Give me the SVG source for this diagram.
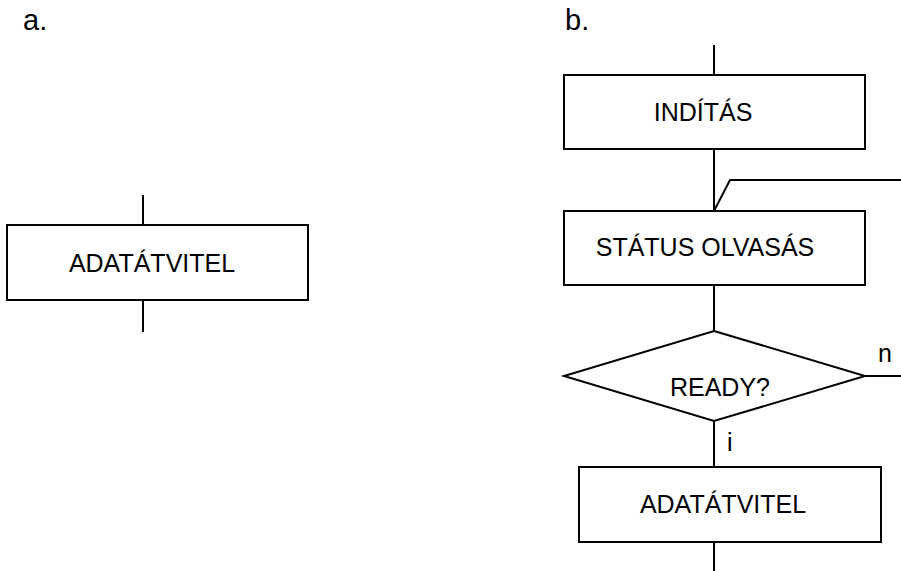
<svg xmlns="http://www.w3.org/2000/svg" width="901" height="571" viewBox="0 0 901 571">
  <style>
    .box { fill: #ffffff; stroke: #000000; stroke-width: 2; }
    .wire { fill: none; stroke: #000000; stroke-width: 2; }
    .lbl { font-family: "Liberation Sans", Arial, sans-serif; font-size: 25px; fill: #000000; }
    .cap { font-size: 29px; }
    .mid { text-anchor: middle; }
  </style>
  <rect width="901" height="571" fill="#ffffff"/>

  <!-- panel captions -->
  <text class="lbl cap" x="23" y="30">a.</text>
  <text class="lbl cap" x="565" y="30">b.</text>

  <!-- connectors -->
  <g id="connectors">
    <!-- panel a: single block -->
    <line class="wire" x1="143" y1="195" x2="143" y2="225"/>
    <line class="wire" x1="143" y1="300" x2="143" y2="332"/>
    <!-- panel b: flow -->
    <line class="wire" x1="714" y1="45" x2="714" y2="75"/>
    <line class="wire" x1="714" y1="149" x2="714" y2="211"/>
    <polyline class="wire" points="714,211 730,180 901,180"/>
    <line class="wire" x1="714" y1="285" x2="714" y2="331"/>
    <line class="wire" x1="865" y1="376" x2="901" y2="376"/>
    <line class="wire" x1="714" y1="421" x2="714" y2="467"/>
    <line class="wire" x1="714" y1="542" x2="714" y2="571"/>
    <text class="lbl" x="878" y="362">n</text>
    <text class="lbl" x="727" y="451">i</text>
  </g>

  <g id="a-transfer">
    <rect class="box" x="7" y="225" width="301" height="75"/>
    <text class="lbl mid" x="152" y="272">ADATÁTVITEL</text>
  </g>

  <g id="b-start">
    <rect class="box" x="564" y="75" width="301" height="74"/>
    <text class="lbl mid" x="703" y="121">INDÍTÁS</text>
  </g>

  <g id="b-status">
    <rect class="box" x="564" y="211" width="301" height="74"/>
    <text class="lbl mid" x="705" y="256">STÁTUS OLVASÁS</text>
  </g>

  <g id="b-ready">
    <polygon class="box" points="714,331 865,376 714,421 564,376"/>
    <text class="lbl mid" x="720" y="396">READY?</text>
  </g>

  <g id="b-transfer">
    <rect class="box" x="579" y="467" width="302" height="75"/>
    <text class="lbl mid" x="723" y="513">ADATÁTVITEL</text>
  </g>
</svg>
